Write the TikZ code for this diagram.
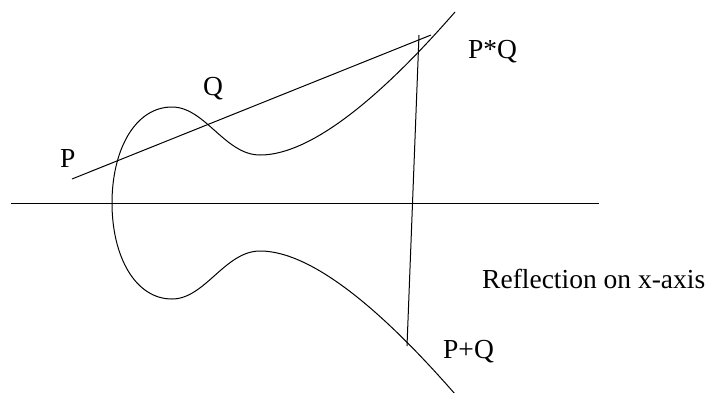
\documentclass[tikz,border=0pt]{standalone}
\usepackage{fontspec}
\setmainfont{Liberation Serif}
\begin{document}
\begin{tikzpicture}[x=1pt,y=-1pt,
  ln/.style={line width=1pt,black},
  lbl/.style={anchor=base west,inner sep=0pt,font=\fontsize{27.5}{33}\selectfont}]
\useasboundingbox (0,0) rectangle (714,392);
% points
\coordinate (axL) at (11,203);
\coordinate (axR) at (599,203);
\coordinate (secA) at (72,179);
\coordinate (secB) at (431,35);
\coordinate (vtop) at (419,35);
\coordinate (vbot) at (407,346);
% axis
\draw[ln] (axL) -- (axR);
% secant through P and Q
\draw[ln] (secA) -- (secB);
% reflection line
\draw[ln] (vtop) -- (vbot);
% curve
\draw[ln] (455,12) .. controls (400,75) and (320,155) .. (260,155)
  .. controls (225,155) and (205,107) .. (172,107)
  .. controls (135,107) and (112,150) .. (112,203)
  .. controls (112,256) and (135,299) .. (172,299)
  .. controls (205,299) and (225,251) .. (260,251)
  .. controls (320,251) and (400,331) .. (455,394);
% labels
\node[lbl] (lP) at (60,167) {P};
\node[lbl] (lQ) at (203,95) {Q};
\node[lbl] (lPQ) at (468,58) {P*Q};
\node[lbl] (lPpQ) at (443,358) {P+Q};
\node[lbl] (lRef) at (482,288) {Reflection on x-axis};
\end{tikzpicture}
\end{document}
